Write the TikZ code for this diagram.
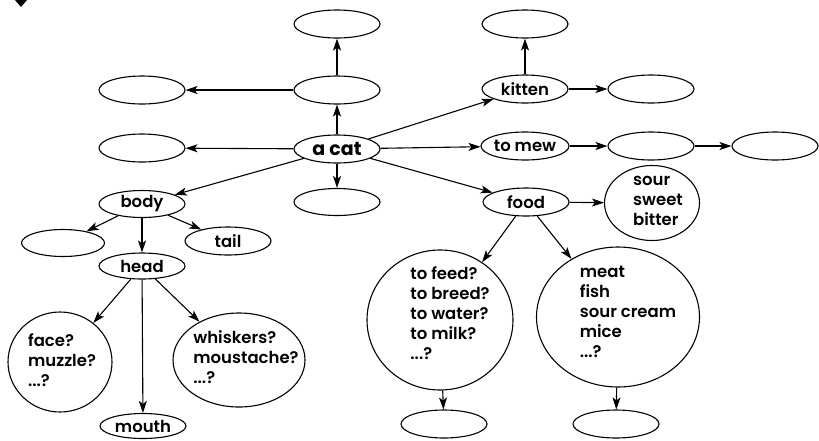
\documentclass[tikz,border=0pt]{standalone}
\usepackage{fontspec}
\setmainfont{Poppins}[UprightFont=* SemiBold,BoldFont=* Bold]
\usetikzlibrary{shapes.geometric,arrows.meta}
\begin{document}
\begin{tikzpicture}[x=1pt,y=-1pt,
  ell/.style={draw,ellipse,line width=1.1pt,inner sep=0pt,minimum width=86pt,minimum height=28pt,font=\fontsize{16.5}{16.5}\selectfont},
  big/.style={draw,ellipse,line width=1.1pt,inner sep=0pt},
  txt/.style={align=left,inner sep=0pt,font=\fontsize{16.5}{20}\selectfont},
  arr/.style={line width=1.1pt,-{Stealth[length=12pt,width=8pt,inset=3pt]}}]
\useasboundingbox (0,0) rectangle (819,440);
\fill (15,0) -- (27,0) -- (21,7) -- cycle;
% nodes
\node[ell] (top) at (337,24) {};
\node[ell] (mid) at (337,90) {};
\node[ell] (midl) at (142,90) {};
\node[ell,font=\fontsize{19}{19}\selectfont\bfseries] (cat) at (337,149) {a cat};
\node[ell] (catl) at (142,148) {};
\node[ell,minimum height=27pt] (below) at (337,202) {};
\node[ell,minimum height=27pt] (body) at (142,204) {body};
\node[ell,minimum width=83pt,minimum height=27pt] (bodyl) at (63,243) {};
\node[ell,minimum height=28pt] (tail) at (228,241) {tail};
\node[ell,minimum height=26pt] (head) at (142,266) {head};
\node[big,minimum width=104pt,minimum height=100pt] (face) at (60,362) {};
\node[txt] (facet) at (62,360) {face?\\muzzle?\\...?};
\node[big,minimum width=132pt,minimum height=94pt] (whisk) at (239,360) {};
\node[txt] (whiskt) at (246,357) {whiskers?\\moustache?\\...?};
\node[ell,minimum height=25pt] (mouth) at (143,426) {mouth};
\node[ell] (kitt) at (525,24) {};
\node[ell] (kitten) at (525,89) {kitten};
\node[ell] (kittr) at (651,89) {};
\node[ell] (mew) at (525,146) {to mew};
\node[ell] (mewr) at (651,146) {};
\node[ell] (mewrr) at (775,146) {};
\node[ell] (food) at (526,202) {food};
\node[big,minimum width=95pt,minimum height=75pt] (taste) at (652,203) {};
\node[txt] (tastet) at (658,201) {sour\\sweet\\bitter};
\node[big,minimum width=146pt,minimum height=140pt] (feed) at (440,320) {};
\node[txt] (feedt) at (450,313) {to feed?\\to breed?\\to water?\\to milk?\\...?};
\node[big,minimum width=163pt,minimum height=140pt] (meat) at (618,317) {};
\node[txt] (meatt) at (628,312) {meat\\fish\\sour cream\\mice\\...?};
\node[ell] (feedb) at (444,424) {};
\node[ell] (meatb) at (616,424) {};
% arrows
\draw[arr] (cat) -- (mid);
\draw[arr] (mid) -- (top);
\draw[arr] (mid) -- (midl);
\draw[arr] (cat) -- (catl);
\draw[arr] (cat) -- (below);
\draw[arr] (cat) -- (body);
\draw[arr] (cat) -- (kitten);
\draw[arr] (cat) -- (mew);
\draw[arr] (cat) -- (food);
\draw[arr] (kitten) -- (kitt);
\draw[arr] (kitten) -- (kittr);
\draw[arr] (mew) -- (mewr);
\draw[arr] (mewr) -- (mewrr);
\draw[arr] (food) -- (taste);
\draw[arr] (food) -- (feed);
\draw[arr] (food) -- (meat);
\draw[arr] (feed) -- (feedb);
\draw[arr] (meat) -- (meatb);
\draw[arr] (body) -- (bodyl);
\draw[arr] (body) -- (head);
\draw[arr] (body) -- (tail);
\draw[arr] (head) -- (face);
\draw[arr] (head) -- (mouth);
\draw[arr] (head) -- (whisk);
\end{tikzpicture}
\end{document}
